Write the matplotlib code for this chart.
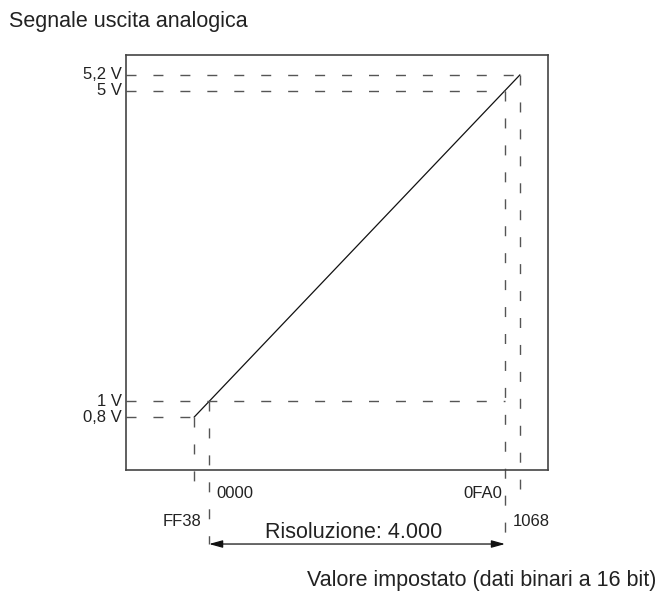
import matplotlib
matplotlib.use("Agg")
import matplotlib.pyplot as plt

plt.rcParams['font.family'] = ['Liberation Sans', 'DejaVu Sans']

# valori del grafico
x_punti = [-200, 0, 4000, 4200]          # FF38, 0000, 0FA0, 1068
x_etichette = ["FF38", "0000", "0FA0", "1068"]
y_punti = [0.8, 1.0, 5.0, 5.2]
y_etichette = ["0,8 V", "1 V", "5 V", "5,2 V"]
risoluzione = "Risoluzione: 4.000"

fig = plt.figure(figsize=(6.64, 5.91), dpi=100)
ax = fig.add_axes([0.1898, 0.2047, 0.6355, 0.7022])
x0, x1 = -1122, 4581
ax.set_xlim(x0, x1)
ax.set_ylim(0.118, 5.457)
ax.set_xticks([])
ax.set_yticks([])
for s in ax.spines.values():
    s.set_color("#444444")
    s.set_linewidth(1.2)

tratto = dict(color="#555555", linewidth=1.0, dashes=(7.2, 12.2), clip_on=False)
testo = dict(fontsize=12, color="#222222")

# linea di conversione
ax.plot([x_punti[0], x_punti[3]], [y_punti[0], y_punti[3]], color="#111111", linewidth=0.9)

# linee orizzontali tratteggiate
fine_orizz = [x_punti[0], x_punti[2], x_punti[2], x_punti[3]]
for yv, xe, lab in zip(y_punti, fine_orizz, y_etichette):
    ax.plot([x0, xe], [yv, yv], **tratto)
    ax.text(x0 - 60, yv, lab, ha="right", va="center", **testo)

# linee verticali tratteggiate
y_fondo = [-0.23, -0.84, -0.84, -0.12]
for xv, ya, yb in zip(x_punti, y_punti, y_fondo):
    ax.plot([xv, xv], [ya, yb], **tratto)

ax.text(x_punti[1] + 105, -0.178, x_etichette[1], ha="left", va="center", **testo)
ax.text(x_punti[2] - 40, -0.178, x_etichette[2], ha="right", va="center", **testo)
ax.text(x_punti[0] + 90, -0.538, x_etichette[0], ha="right", va="center", **testo)
ax.text(x_punti[3] - 90, -0.538, x_etichette[3], ha="left", va="center", **testo)

# freccia risoluzione
ax.annotate("", xy=(x_punti[2], -0.834), xytext=(x_punti[1], -0.834),
            arrowprops=dict(arrowstyle="<|-|>,head_length=0.9,head_width=0.25",
                            color="#111111", lw=0.9,
                            mutation_scale=9, shrinkA=0, shrinkB=0),
            annotation_clip=False)
ax.text((x_punti[1] + x_punti[2]) / 2 - 40, -0.68, risoluzione, ha="center", va="center",
        fontsize=15.5, color="#222222")

fig.text(0.0136, 0.955, "Segnale uscita analogica", ha="left", va="baseline",
         fontsize=15.5, color="#222222")
fig.text(0.989, 0.008, "Valore impostato (dati binari a 16 bit)", ha="right", va="baseline",
         fontsize=15.5, color="#222222")

fig.savefig("out.png", dpi=100)
